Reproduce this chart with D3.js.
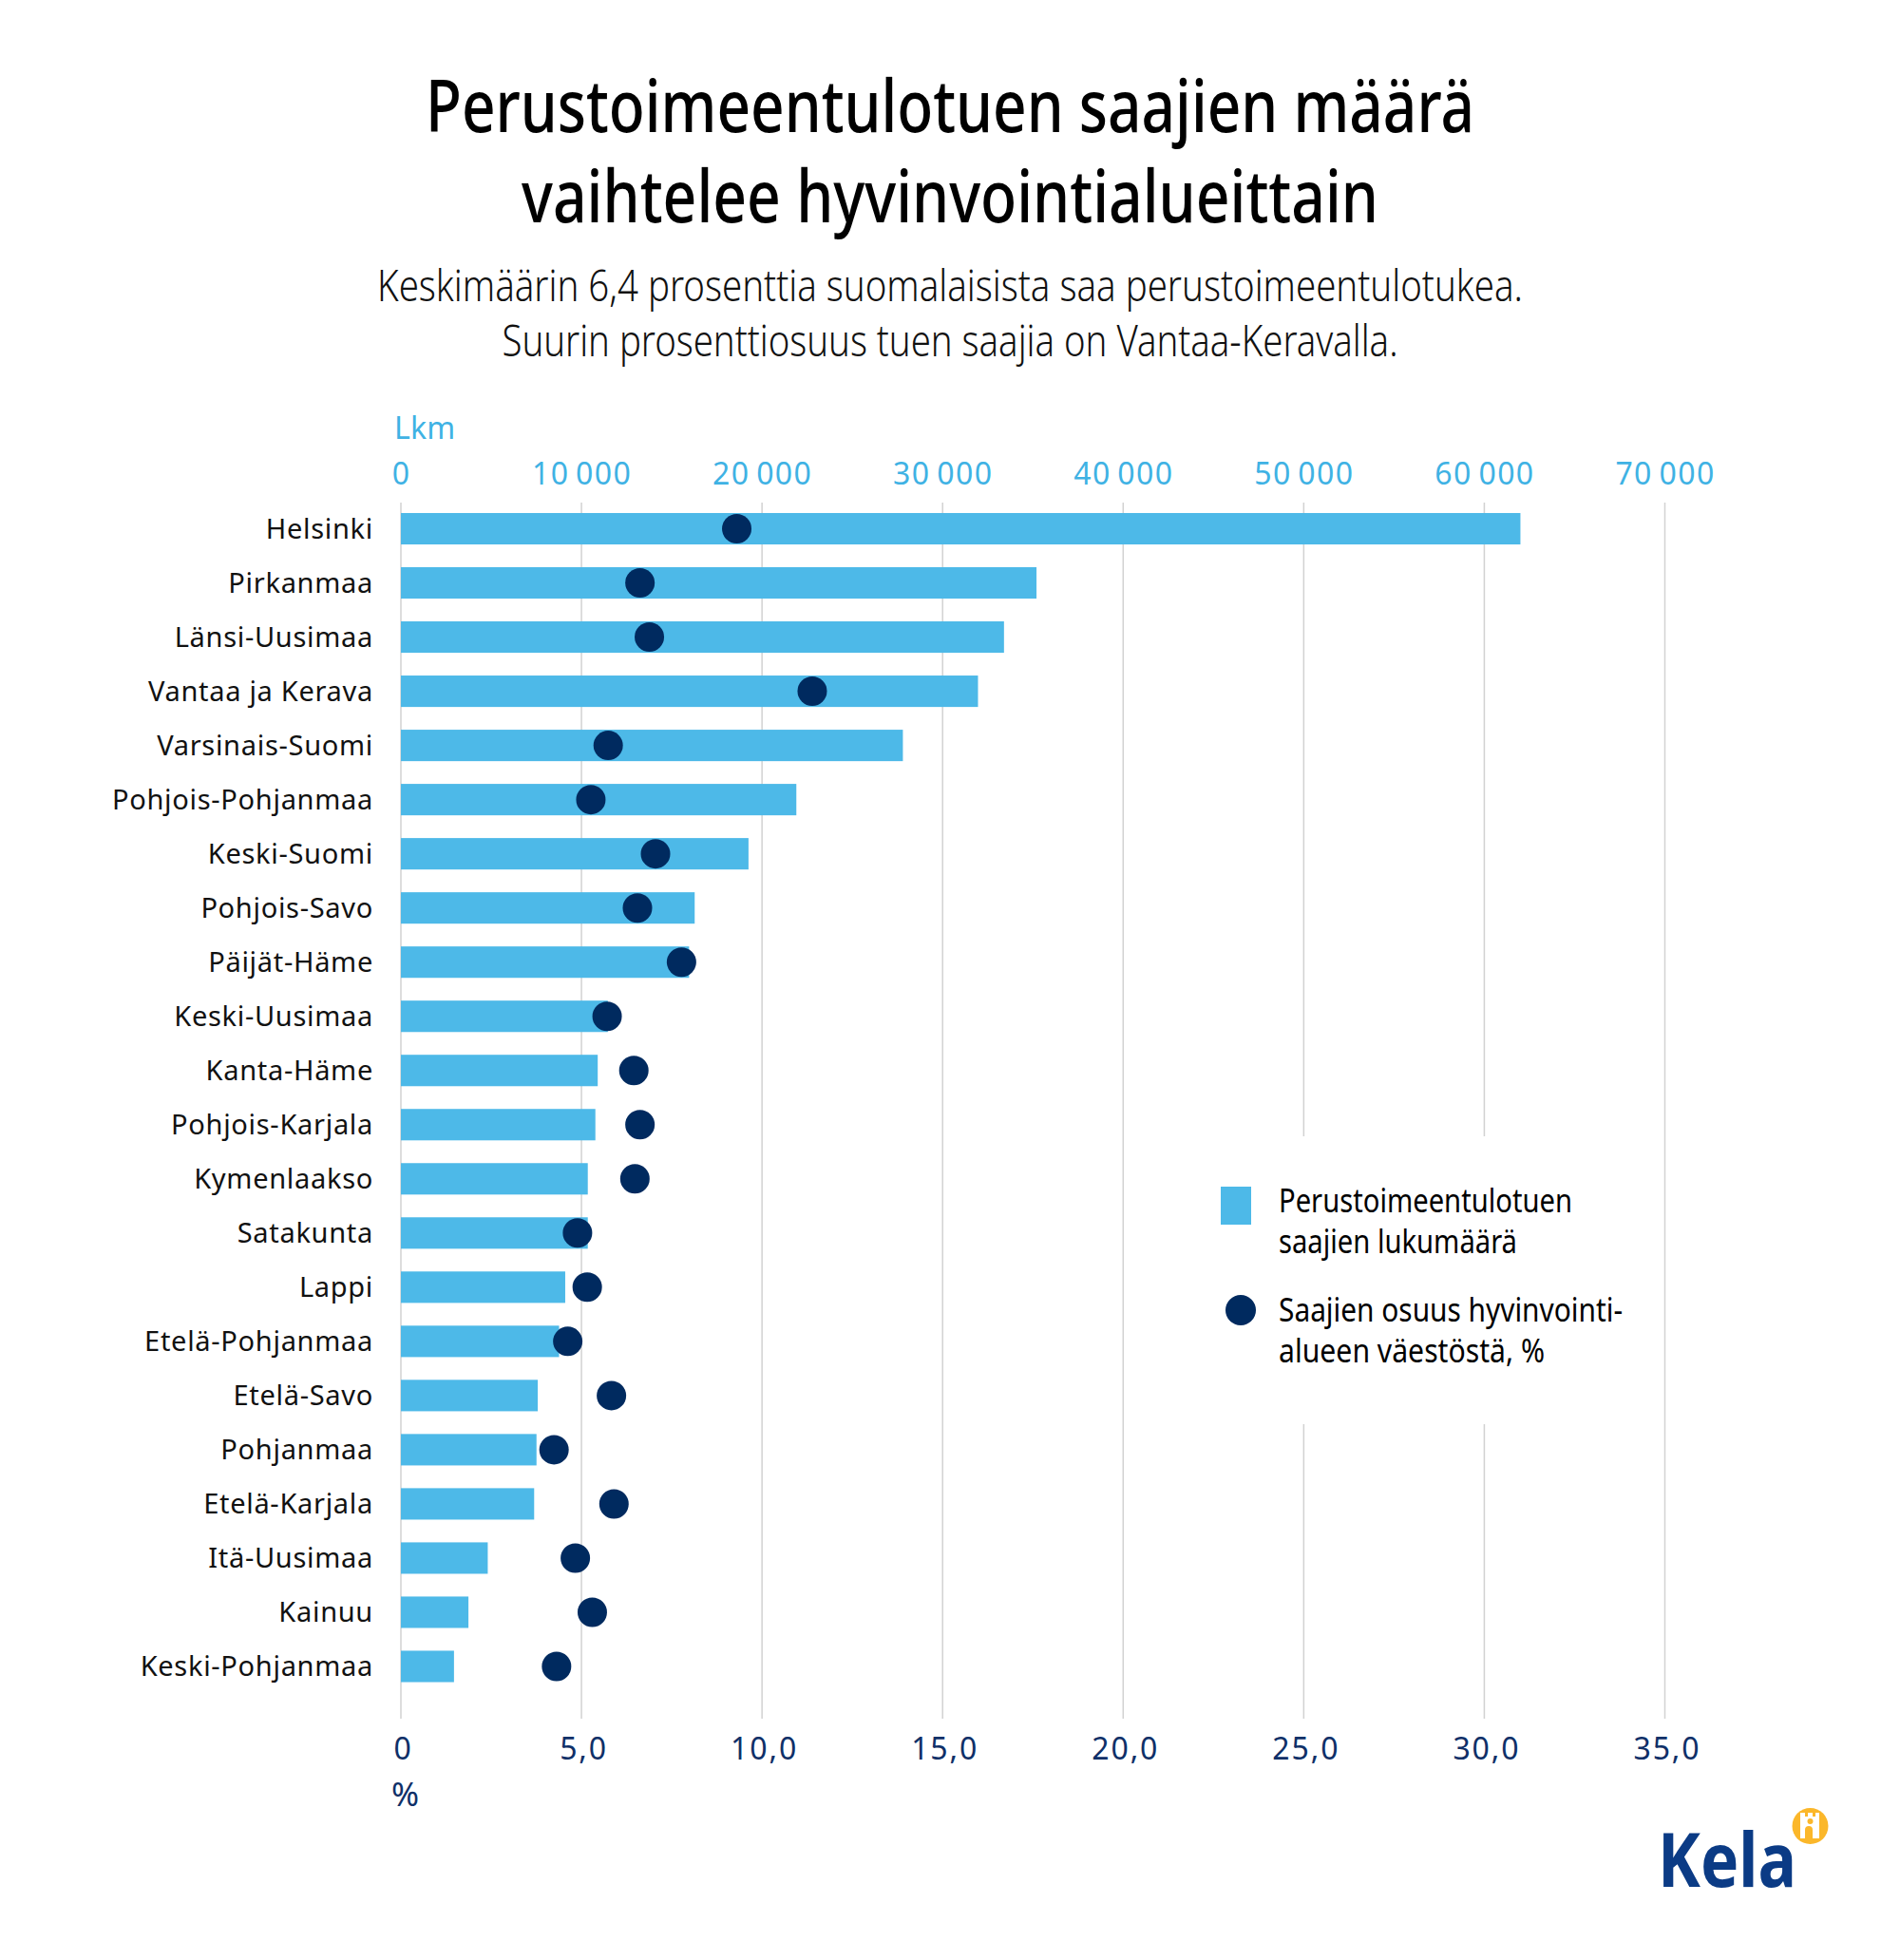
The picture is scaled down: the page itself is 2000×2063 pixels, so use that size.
<!DOCTYPE html>
<html><head><meta charset="utf-8">
<script src="https://cdn.jsdelivr.net/npm/d3@7/dist/d3.min.js"></script>
<style>html,body{margin:0;padding:0;background:#fff}svg{display:block}text{font-family:"Noto Sans",sans-serif}</style>
</head><body>
<script>
const categories=["Helsinki","Pirkanmaa","Länsi-Uusimaa","Vantaa ja Kerava","Varsinais-Suomi","Pohjois-Pohjanmaa","Keski-Suomi","Pohjois-Savo","Päijät-Häme","Keski-Uusimaa","Kanta-Häme","Pohjois-Karjala","Kymenlaakso","Satakunta","Lappi","Etelä-Pohjanmaa","Etelä-Savo","Pohjanmaa","Etelä-Karjala","Itä-Uusimaa","Kainuu","Keski-Pohjanmaa"];
const counts=[62000,35200,33400,31960,27800,21900,19250,16270,15960,11460,10900,10770,10350,10350,9100,8760,7580,7510,7380,4810,3740,2940];
const shares=[9.3,6.62,6.88,11.39,5.74,5.26,7.05,6.55,7.77,5.71,6.45,6.62,6.48,4.89,5.16,4.62,5.83,4.24,5.9,4.83,5.3,4.31];
const countTicks=[0,10000,20000,30000,40000,50000,60000,70000];
const shareTicks=[0,5,10,15,20,25,30,35];
const titleLines=[["Perustoimeentulotuen saajien määrä",1104],["vaihtelee hyvinvointialueittain",902]];
const subtitleLines=[["Keskimäärin 6,4 prosenttia suomalaisista saa perustoimeentulotukea.",1206],["Suurin prosenttiosuus tuen saajia on Vantaa-Keravalla.",943]];
const legendCount=[["Perustoimeentulotuen",309],["saajien lukumäärä",251]];
const legendShare=[["Saajien osuus hyvinvointi-",362],["alueen väestöstä, %",280]];

const svg=d3.select("body").append("svg").attr("width",2000).attr("height",2063);
const x=d3.scaleLinear().domain([0,70000]).range([422,1752.5]);
const xp=d3.scaleLinear().domain([0,35]).range([422,1752.5]);
const y=d3.scaleBand().domain(categories).range([528,1782.5]).paddingInner(0.42).paddingOuter(0.21);
const lightBlue="#4db9e8",tickBlue="#3fb2e4",navy="#002a5f",navyText="#0f3068",grid="#d2d2d2";

// titles
titleLines.forEach(([t,w],i)=>svg.append("text").attr("x",1000).attr("y",139+i*95).attr("text-anchor","middle")
  .attr("font-size",76).attr("font-weight",500).attr("fill","#000").attr("textLength",w).attr("lengthAdjust","spacingAndGlyphs").text(t));
subtitleLines.forEach(([t,w],i)=>svg.append("text").attr("x",1000).attr("y",317+i*58).attr("text-anchor","middle")
  .attr("font-size",46).attr("font-weight",300).attr("fill","#111").attr("textLength",w).attr("lengthAdjust","spacingAndGlyphs").text(t));

// grid
svg.append("g").selectAll("line").data(countTicks).join("line")
  .attr("x1",d=>x(d)).attr("x2",d=>x(d)).attr("y1",529).attr("y2",1809).attr("stroke",grid).attr("stroke-width",1.5);

// top axis
const fmtCount=d=>d===0?"0":d3.format(",")(d).replace(",","\u2009");
const axisTopG=svg.append("g").attr("transform","translate(0,510)").call(d3.axisTop(x).tickValues(countTicks).tickFormat(fmtCount).tickSize(0).tickPadding(0));
axisTopG.select(".domain").remove();
axisTopG.selectAll("text").attr("fill",tickBlue).attr("font-size",32).attr("letter-spacing",1.4).style("font-family",'"Noto Sans",sans-serif');
svg.append("text").attr("x",415).attr("y",462).attr("fill",tickBlue).attr("font-size",32).attr("letter-spacing",0.2).text("Lkm");

// bottom axis
const fmtShare=d=>d===0?"0":d3.format(".1f")(d).replace(".",",");
const axisBotG=svg.append("g").attr("transform","translate(2,1851.5)").call(d3.axisBottom(xp).tickValues(shareTicks).tickFormat(fmtShare).tickSize(0).tickPadding(0));
axisBotG.select(".domain").remove();
axisBotG.selectAll("text").attr("fill",navyText).attr("font-size",32).attr("letter-spacing",1.9).attr("dy",0).style("font-family",'"Noto Sans",sans-serif');
svg.append("text").attr("x",412).attr("y",1901).attr("fill",navyText).attr("font-size",35).text("%");

// category axis
const axisLeftG=svg.append("g").attr("transform","translate(393,1)").call(d3.axisLeft(y).tickSize(0).tickPadding(0));
axisLeftG.select(".domain").remove();
axisLeftG.selectAll("text").attr("fill","#111").attr("font-size",29).attr("letter-spacing",0.7).style("font-family",'"Noto Sans",sans-serif');

// bars & dots
svg.append("g").selectAll("rect").data(categories).join("rect")
  .attr("x",x(0)).attr("y",d=>y(d)).attr("height",y.bandwidth()).attr("width",(d,i)=>x(counts[i])-x(0)).attr("fill",lightBlue);
svg.append("g").selectAll("circle").data(categories).join("circle")
  .attr("cx",(d,i)=>xp(shares[i])).attr("cy",d=>y(d)+y.bandwidth()/2).attr("r",15.5).attr("fill",navy);

// legend
svg.append("rect").attr("x",1250).attr("y",1196).attr("width",430).attr("height",303).attr("fill","#fff");
svg.append("rect").attr("x",1285).attr("y",1249).attr("width",32).attr("height",40).attr("fill",lightBlue);
svg.append("circle").attr("cx",1306).attr("cy",1379).attr("r",16).attr("fill",navy);
legendCount.forEach(([t,w],i)=>svg.append("text").attr("x",1346).attr("y",1276+i*43).attr("font-size",34).attr("fill","#000").attr("textLength",w).attr("lengthAdjust","spacingAndGlyphs").text(t));
legendShare.forEach(([t,w],i)=>svg.append("text").attr("x",1346).attr("y",1391+i*43).attr("font-size",34).attr("fill","#000").attr("textLength",w).attr("lengthAdjust","spacingAndGlyphs").text(t));

// logo
const logo=svg.append("g");
logo.append("text").attr("x",1745).attr("y",1986).attr("font-size",78).attr("font-weight",700).attr("fill","#0b3b85").attr("textLength",146).attr("lengthAdjust","spacingAndGlyphs").text("Kela");
logo.append("circle").attr("cx",1905.5).attr("cy",1922).attr("r",19).attr("fill","#fbb72a");
logo.append("path").attr("fill","#fff").attr("d","M1895 1908h5v4h3v-4h5v4h3v-4h4v27h-7v-9a4 4 0 0 0-8 0v9h-5z");
logo.append("circle").attr("cx",1905.5).attr("cy",1917).attr("r",3).attr("fill","#fbb72a");
</script>
</body></html>
